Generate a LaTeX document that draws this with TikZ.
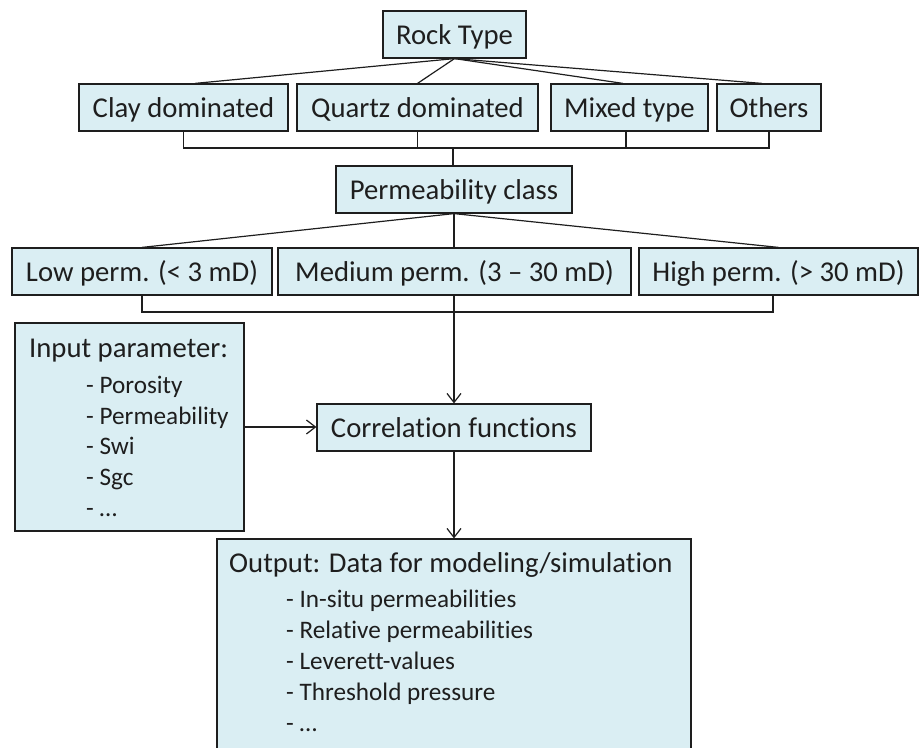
\documentclass[tikz,border=0pt]{standalone}
\usepackage{fontspec}
\setmainfont{Carlito}[Ligatures=NoCommon]
\usetikzlibrary{arrows.meta}
\definecolor{boxfill}{HTML}{DAEEF3}
\definecolor{ink}{HTML}{1E1E1E}
\tikzset{
  box/.style={draw=ink, fill=boxfill, line width=1.2pt, inner sep=0pt,
              minimum height=47pt, text=ink, text height=22pt, text depth=3pt},
  link/.style={draw=ink, line width=1.2pt},
  arrowlink/.style={link, -{Straight Barb[length=9pt,width=14pt,line width=1.2pt]}},
  txt/.style={anchor=base west, inner sep=0pt, text=ink},
  item/.style={txt, font=\fontsize{25.2}{30}\selectfont},
}
\begin{document}
\begin{tikzpicture}[x=1pt, y=-1pt,
  every node/.append style={font=\fontsize{28.7}{34}\selectfont}]
\useasboundingbox (0,0) rectangle (921,747);

% top level: rock type and its classes
\node[box, minimum width=143pt] (rock)   at (454.5,34.5)  {Rock Type};
\node[box, minimum width=209pt] (clay)   at (183.5,107.5) {Clay dominated};
\node[box, minimum width=241pt] (quartz) at (417.5,107.5) {Quartz dominated};
\node[box, minimum width=157pt] (mixed)  at (629.5,107.5) {Mixed type};
\node[box, minimum width=104pt] (others) at (769,107.5)   {Others};

% permeability level
\node[box, minimum width=236pt] (perm)   at (454,189.5)   {Permeability class};
\node[box, minimum width=260pt] (low)    at (142,271.5)   {Low perm. (< 3 mD)};
\node[box, minimum width=353pt] (medium) at (454.5,271.5) {Medium perm. (3 – 30 mD)};
\node[box, minimum width=279pt] (high)   at (778.5,271.5) {High perm. (> 30 mD)};

% correlation step
\node[box, minimum width=274pt] (corr)   at (454,427.5)   {Correlation functions};

% input box with its list
\node[box, minimum width=229pt, minimum height=208pt] (input) at (129.5,427) {};
\node[txt]  (in0) at (29,357) {Input parameter:};
\node[item] (in1) at (86,393) {- Porosity};
\node[item] (in2) at (86,424) {- Permeability};
\node[item] (in3) at (86,454) {- Swi};
\node[item] (in4) at (86,485) {- Sgc};
\node[item] (in5) at (86,516) {- …};

% output box with its list (runs past the lower edge)
\node[box, minimum width=474pt, minimum height=221pt] (output) at (454,649.5) {};
\node[txt]  (out0) at (229,572) {Output: Data for modeling/simulation};
\node[item] (out1) at (286,607) {- In-situ permeabilities};
\node[item] (out2) at (286,638) {- Relative permeabilities};
\node[item] (out3) at (286,669) {- Leverett-values};
\node[item] (out4) at (286,700) {- Threshold pressure};
\node[item] (out5) at (286,731) {- …};

% rock type fan-out
\draw[link] (rock.south) -- ([xshift=11.5pt]clay.north);
\draw[link] (rock.south) -- (quartz.north);
\draw[link] (rock.south) -- ([xshift=-6.5pt]mixed.north);
\draw[link] (rock.south) -- ([xshift=-7pt]others.north);

% joining bracket under the rock classes
\coordinate (j1) at (453,148);
\draw[link] (clay.south) -- (clay.south |- j1) -- (others.south |- j1) -- (others.south);
\draw[link] (quartz.south) -- (quartz.south |- j1);
\draw[link] ([xshift=-3.5pt]mixed.south) -- ([xshift=-3.5pt]mixed.south |- j1);
\draw[link] (j1) -- (j1 |- perm.north);

% permeability fan-out
\draw[link] (perm.south) -- (low.north);
\draw[link] (perm.south) -- (perm.south |- medium.north);
\draw[link] (perm.south) -- (high.north);

% joining bracket under the permeability classes
\coordinate (j2) at (454,312);
\draw[link] (low.south) -- (low.south |- j2) -- ([xshift=-5.5pt]high.south |- j2) -- ([xshift=-5.5pt]high.south);
\draw[arrowlink] (j2 |- medium.south) -- (j2 |- corr.north);

% inputs and outputs of the correlation
\draw[arrowlink] (input.east) -- (input.east -| corr.west);
\draw[arrowlink] (corr.south) -- (output.north);
\end{tikzpicture}
\end{document}
